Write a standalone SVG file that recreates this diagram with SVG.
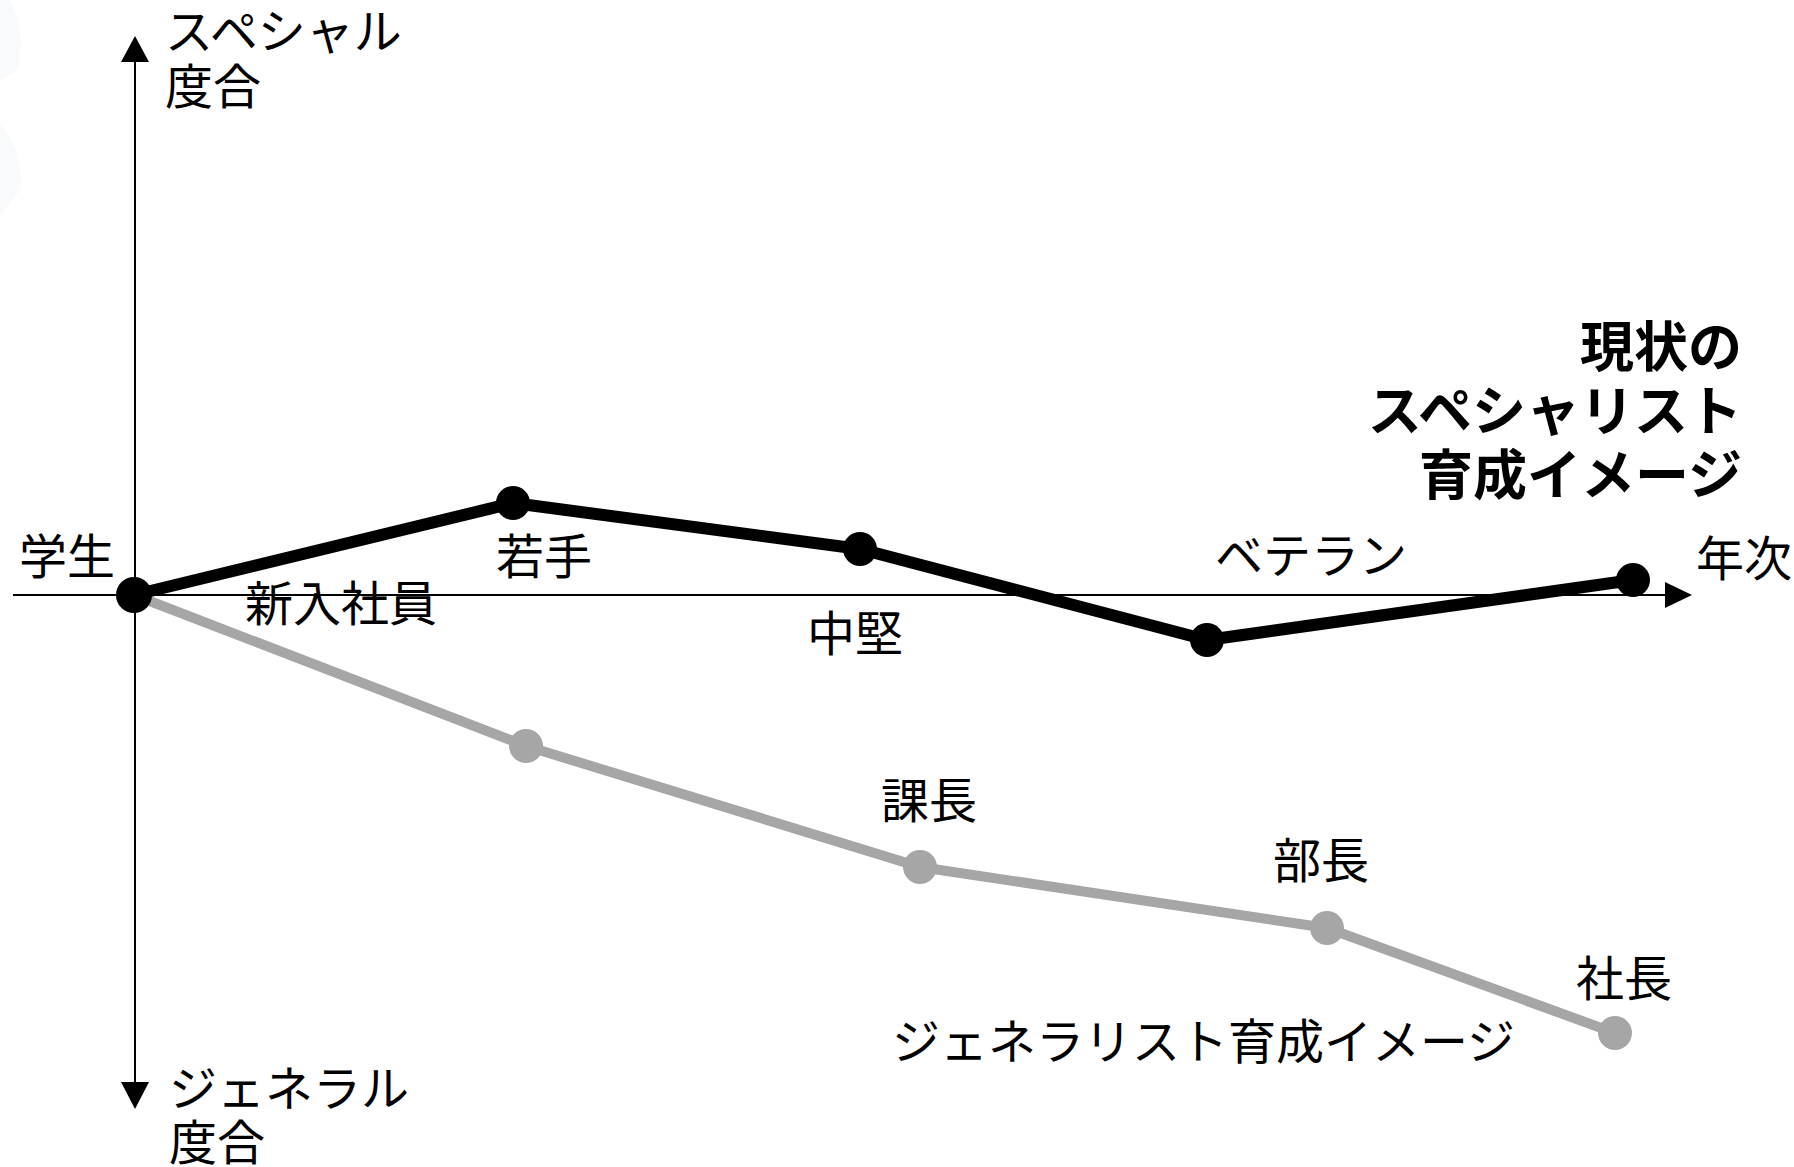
<svg xmlns="http://www.w3.org/2000/svg" width="1794" height="1167" viewBox="0 0 1794 1167">
<defs>
<style>
text{font-family:"Noto Sans CJK JP","Noto Sans",sans-serif;font-size:48px;fill:#000}
.title{font-size:54px;font-weight:bold;text-anchor:end}
.axis{stroke:#000;stroke-width:2;fill:none}
.spec{stroke:#000;stroke-width:12;fill:none;stroke-linejoin:round}
.gen{stroke:#A6A6A6;stroke-width:10;fill:none;stroke-linejoin:round}
.bdot{fill:#000}
.gdot{fill:#A6A6A6}
.head{fill:#000}
</style>
</defs>
<rect width="1794" height="1167" fill="#fff"/>
<g id="bg-faint" opacity="0.35">
<path d="M0 0 H10 Q26 30 18 70 L0 80 Z" fill="#eef1f5"/>
<path d="M0 125 Q24 150 20 190 L0 215 Z" fill="#eef1f5"/>
</g>
<g id="connectors">
<line class="axis" x1="135" y1="1085" x2="135" y2="58"/>
<polygon class="head" points="135,36 121,62 149,62"/>
<polygon class="head" points="135,1109 121,1082 149,1082"/>
<line class="axis" x1="13" y1="595" x2="1668" y2="595"/>
<polygon class="head" points="1692,595 1665,582 1665,608"/>
<polyline class="gen" points="134,595 526,746 920,867 1327,928 1615,1033"/>
<polyline class="spec" points="134,595 513,503 860,549 1207,640 1633,580"/>
</g>
<g id="node-gakusei"><circle class="bdot" cx="134" cy="595" r="18"/><text x="19" y="574">学生</text><text x="245" y="621">新入社員</text></g>
<g id="node-wakate"><circle class="bdot" cx="513" cy="503" r="17"/><text x="496" y="574">若手</text></g>
<g id="node-chuken"><circle class="bdot" cx="860" cy="549" r="17"/><text x="807" y="651">中堅</text></g>
<g id="node-veteran"><circle class="bdot" cx="1207" cy="640" r="17"/><text x="1215" y="573">ベテラン</text></g>
<g id="node-nenji"><circle class="bdot" cx="1633" cy="580" r="17"/><text x="1696" y="576">年次</text></g>
<g id="node-g1"><circle class="gdot" cx="526" cy="746" r="17"/></g>
<g id="node-kacho"><circle class="gdot" cx="920" cy="867" r="17"/><text x="881" y="818">課長</text></g>
<g id="node-bucho"><circle class="gdot" cx="1327" cy="928" r="17"/><text x="1273" y="878">部長</text></g>
<g id="node-shacho"><circle class="gdot" cx="1615" cy="1033" r="17"/><text x="1576" y="996">社長</text></g>
<g id="label-special"><text x="165" y="49">スペシャル</text><text x="165" y="104">度合</text></g>
<g id="label-general"><text x="169" y="1106">ジェネラル</text><text x="169" y="1160">度合</text></g>
<g id="label-gen-image"><text x="892" y="1059">ジェネラリスト育成イメージ</text></g>
<g id="label-title"><text class="title" x="1742" y="367">現状の</text><text class="title" x="1742" y="431">スペシャリスト</text><text class="title" x="1742" y="495">育成イメージ</text></g>
</svg>
